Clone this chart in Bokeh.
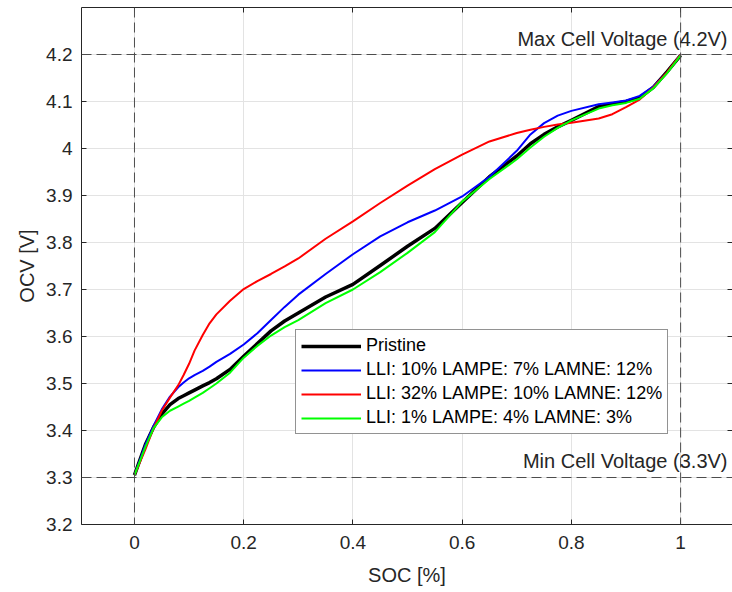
from bokeh.plotting import figure
from bokeh.models import Range1d, LinearAxis, FixedTicker, Span, Label, Legend, LegendItem
from bokeh.embed import file_html
from bokeh.resources import INLINE

# ---------------- data ----------------
soc = [0, 0.02, 0.035, 0.05, 0.065, 0.08, 0.09, 0.1, 0.11, 0.125, 0.1375, 0.15, 0.175,
       0.2, 0.225, 0.25, 0.275, 0.3, 0.35, 0.4, 0.45, 0.5, 0.55, 0.6, 0.65, 0.7, 0.725,
       0.75, 0.775, 0.8, 0.85, 0.875, 0.9, 0.925, 0.95, 0.975, 1.0]

ocv_pristine = [3.305, 3.370, 3.407, 3.435, 3.455, 3.468, 3.474, 3.480, 3.486, 3.495,
                3.502, 3.510, 3.530, 3.558, 3.585, 3.612, 3.633, 3.650, 3.684, 3.711,
                3.751, 3.792, 3.830, 3.885, 3.940, 3.984, 4.010, 4.030, 4.046, 4.060,
                4.089, 4.095, 4.100, 4.108, 4.130, 4.163, 4.198]

ocv_case1 = [3.305, 3.370, 3.410, 3.445, 3.472, 3.492, 3.502, 3.511, 3.518, 3.527,
             3.536, 3.546, 3.563, 3.583, 3.607, 3.635, 3.663, 3.689, 3.733, 3.775,
             3.813, 3.843, 3.868, 3.898, 3.940, 3.995, 4.030, 4.054, 4.070, 4.080,
             4.094, 4.098, 4.102, 4.112, 4.132, 4.161, 4.200]

ocv_case2 = [3.305, 3.360, 3.405, 3.442, 3.470, 3.496, 3.518, 3.542, 3.570, 3.603,
             3.628, 3.647, 3.676, 3.701, 3.718, 3.733, 3.749, 3.766, 3.808, 3.845,
             3.884, 3.921, 3.956, 3.987, 4.015, 4.033, 4.040, 4.046, 4.051, 4.055,
             4.064, 4.073, 4.088, 4.104, 4.130, 4.162, 4.200]

ocv_case3 = [3.305, 3.365, 3.405, 3.428, 3.442, 3.451, 3.457, 3.463, 3.470, 3.480,
             3.490, 3.500, 3.523, 3.555, 3.580, 3.602, 3.620, 3.635, 3.671, 3.700,
             3.737, 3.778, 3.822, 3.887, 3.935, 3.977, 4.002, 4.025, 4.044, 4.060,
             4.085, 4.092, 4.097, 4.106, 4.128, 4.160, 4.198]

series_names = ["Pristine",
                "LLI: 10% LAMPE: 7% LAMNE: 12%",
                "LLI: 32% LAMPE: 10% LAMNE: 12%",
                "LLI: 1% LAMPE: 4% LAMNE: 3%"]

x_ticks = [0, 0.2, 0.4, 0.6, 0.8, 1.0]
x_tick_labels = ["0", "0.2", "0.4", "0.6", "0.8", "1"]
y_ticks = [3.2, 3.3, 3.4, 3.5, 3.6, 3.7, 3.8, 3.9, 4.0, 4.1, 4.2]
y_tick_labels = ["3.2", "3.3", "3.4", "3.5", "3.6", "3.7", "3.8", "3.9", "4", "4.1", "4.2"]

v_max = 4.2
v_min = 3.3
soc_limits = [0, 1]
max_text = "Max Cell Voltage (4.2V)"
min_text = "Min Cell Voltage (3.3V)"

# ---------------- figure ----------------
X_START, X_END = -0.097, 1.095
Y_START, Y_END = 3.2, 4.3

FONT = "Liberation Sans"
TXT = "#262626"
AX = "#262626"

p = figure(width=732, height=592, output_backend="svg", toolbar_location=None,
           x_range=Range1d(X_START, X_END), y_range=Range1d(Y_START, Y_END),
           x_axis_label="SOC [%]", y_axis_label="OCV [V]",
           min_border_left=81, min_border_right=0, min_border_top=7, min_border_bottom=68)
p.outline_line_color = None
p.background_fill_color = "white"
p.border_fill_color = "white"

xt = FixedTicker(ticks=x_ticks)
yt = FixedTicker(ticks=y_ticks)

for ax in p.xaxis + p.yaxis:
    ax.axis_line_color = AX
    ax.major_tick_line_color = AX
    ax.major_tick_in = 5
    ax.major_tick_out = 0
    ax.minor_tick_line_color = None
    ax.major_label_text_font = FONT
    ax.major_label_text_font_size = "19px"
    ax.major_label_text_color = TXT
    ax.axis_label_text_font = FONT
    ax.axis_label_text_font_size = "20px"
    ax.axis_label_text_font_style = "normal"
    ax.axis_label_text_color = TXT

p.xaxis.ticker = xt
p.yaxis.ticker = yt
p.xaxis.major_label_overrides = dict(zip(x_ticks, x_tick_labels))
p.yaxis.major_label_overrides = dict(zip(y_ticks, y_tick_labels))
p.xaxis.major_label_standoff = 11
p.xaxis.axis_label_standoff = 12
p.yaxis.major_label_standoff = 9
p.yaxis.axis_label_standoff = 5

# top / right box axes: tick marks only (drawn as minor ticks, so no label texts)
top = LinearAxis(ticker=FixedTicker(ticks=[], minor_ticks=x_ticks),
                 major_tick_line_color=None, minor_tick_in=5, minor_tick_out=0,
                 minor_tick_line_color=AX, axis_line_color=AX)
right = LinearAxis(ticker=FixedTicker(ticks=[], minor_ticks=y_ticks),
                   major_tick_line_color=None, minor_tick_in=5, minor_tick_out=0,
                   minor_tick_line_color=AX, axis_line_color=AX)
p.add_layout(top, "above")
p.add_layout(right, "right")

p.xgrid.ticker = xt
p.ygrid.ticker = yt
p.xgrid.grid_line_color = "#e3e3e3"
p.ygrid.grid_line_color = "#e3e3e3"

# reference dashed lines
DASH = "#4d4d4d"
for v in [v_max, v_min]:
    p.add_layout(Span(location=v, dimension="width", line_color=DASH,
                      line_dash="10 5", line_width=1))
for s in soc_limits:
    p.add_layout(Span(location=s, dimension="height", line_color=DASH,
                      line_dash="10 5", line_width=1))

p.add_layout(Label(x=X_END, y=v_max, x_offset=-5, y_offset=5, text=max_text,
                   text_align="right", text_baseline="bottom", text_font=FONT,
                   text_font_size="20px", text_color=TXT))
p.add_layout(Label(x=X_END, y=v_min, x_offset=-5, y_offset=6, text=min_text,
                   text_align="right", text_baseline="bottom", text_font=FONT,
                   text_font_size="20px", text_color=TXT))

# curves
r0 = p.line(soc, ocv_pristine, line_color="#000000", line_width=3.5, line_join="round")
r1 = p.line(soc, ocv_case1, line_color="#0000ff", line_width=2, line_join="round")
r2 = p.line(soc, ocv_case2, line_color="#ff0000", line_width=2, line_join="round")
r3 = p.line(soc, ocv_case3, line_color="#00ff00", line_width=2, line_join="round")

legend = Legend(items=[LegendItem(label=n, renderers=[r]) for n, r in zip(series_names, [r0, r1, r2, r3])],
                location=(214, 90), margin=0, padding=5, spacing=3,
                glyph_width=60, glyph_height=20, label_height=20, label_standoff=5,
                label_text_font=FONT, label_text_font_size="18px", label_text_color="#000000",
                border_line_color="#262626", border_line_width=1,
                background_fill_color="white", background_fill_alpha=1.0)
p.add_layout(legend, "center")

open("out.html", "w").write(file_html(p, INLINE))
